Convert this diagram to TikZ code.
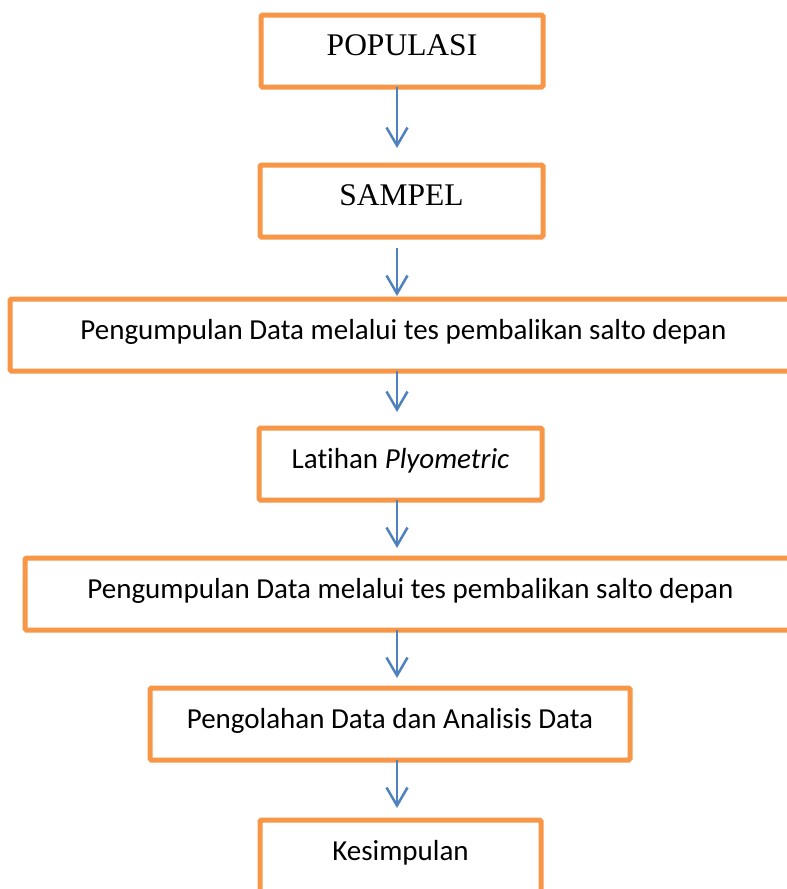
\documentclass[tikz,border=0pt]{standalone}
\usepackage{fontspec}
\setmainfont{Liberation Serif}
\newfontfamily\calibri[Ligatures=NoCommon]{Carlito}
\usetikzlibrary{arrows.meta,positioning}
\definecolor{boxorange}{RGB}{247,150,70}
\definecolor{arrowblue}{RGB}{79,129,189}
\tikzset{
  flowbox/.style={draw=boxorange, line width=5pt, rounded corners=1.5pt, fill=white,
    inner xsep=0pt, inner ysep=0pt, outer sep=0pt,
    text height=40pt, text depth=32pt, anchor=north west},
  serifbox/.style={flowbox, font=\fontsize{31.5}{36}\selectfont},
  sansbox/.style={flowbox, font=\calibri\fontsize{29}{34}\selectfont},
  flowarrow/.style={draw=arrowblue, line width=2.5pt, -{Straight Barb[length=18pt,width=21pt]}}
}

\begin{document}
\begin{tikzpicture}[x=1pt, y=-1pt]
  \useasboundingbox (0,0) rectangle (787,889);
  \clip (0,0) rectangle (787,889);
  % boxes
  \node[serifbox, minimum width=282pt] (pop)  at (261,15)  {POPULASI};
  \node[serifbox, minimum width=283pt] (sam)  at (260,165) {SAMPEL};
  \node[sansbox,  minimum width=787pt] (tes1) at (10,299)  {Pengumpulan Data melalui tes pembalikan salto depan};
  \node[sansbox,  minimum width=283pt] (lat)  at (259,428) {Latihan \textit{Plyometric}};
  \node[sansbox,  minimum width=771pt] (tes2) at (25,558)  {Pengumpulan Data melalui tes pembalikan salto depan};
  \node[sansbox,  minimum width=480pt] (olah) at (150,688) {Pengolahan Data dan Analisis Data};
  \node[sansbox,  minimum width=281pt] (kes)  at (260,820) {Kesimpulan};
  % arrows
  \coordinate (spine) at (397,0);
  \draw[flowarrow, shorten >=17pt] (pop.south -| spine) -- (sam.north -| spine);
  \draw[flowarrow, shorten <=11pt, shorten >=3pt] (sam.south -| spine) -- (tes1.north -| spine);
  \draw[flowarrow, shorten >=16pt] (tes1.south -| spine) -- (lat.north -| spine);
  \draw[flowarrow, shorten >=10pt] (lat.south -| spine) -- (tes2.north -| spine);
  \draw[flowarrow, shorten >=10pt] (tes2.south -| spine) -- (olah.north -| spine);
  \draw[flowarrow, shorten >=12pt] (olah.south -| spine) -- (kes.north -| spine);
\end{tikzpicture}
\end{document}
